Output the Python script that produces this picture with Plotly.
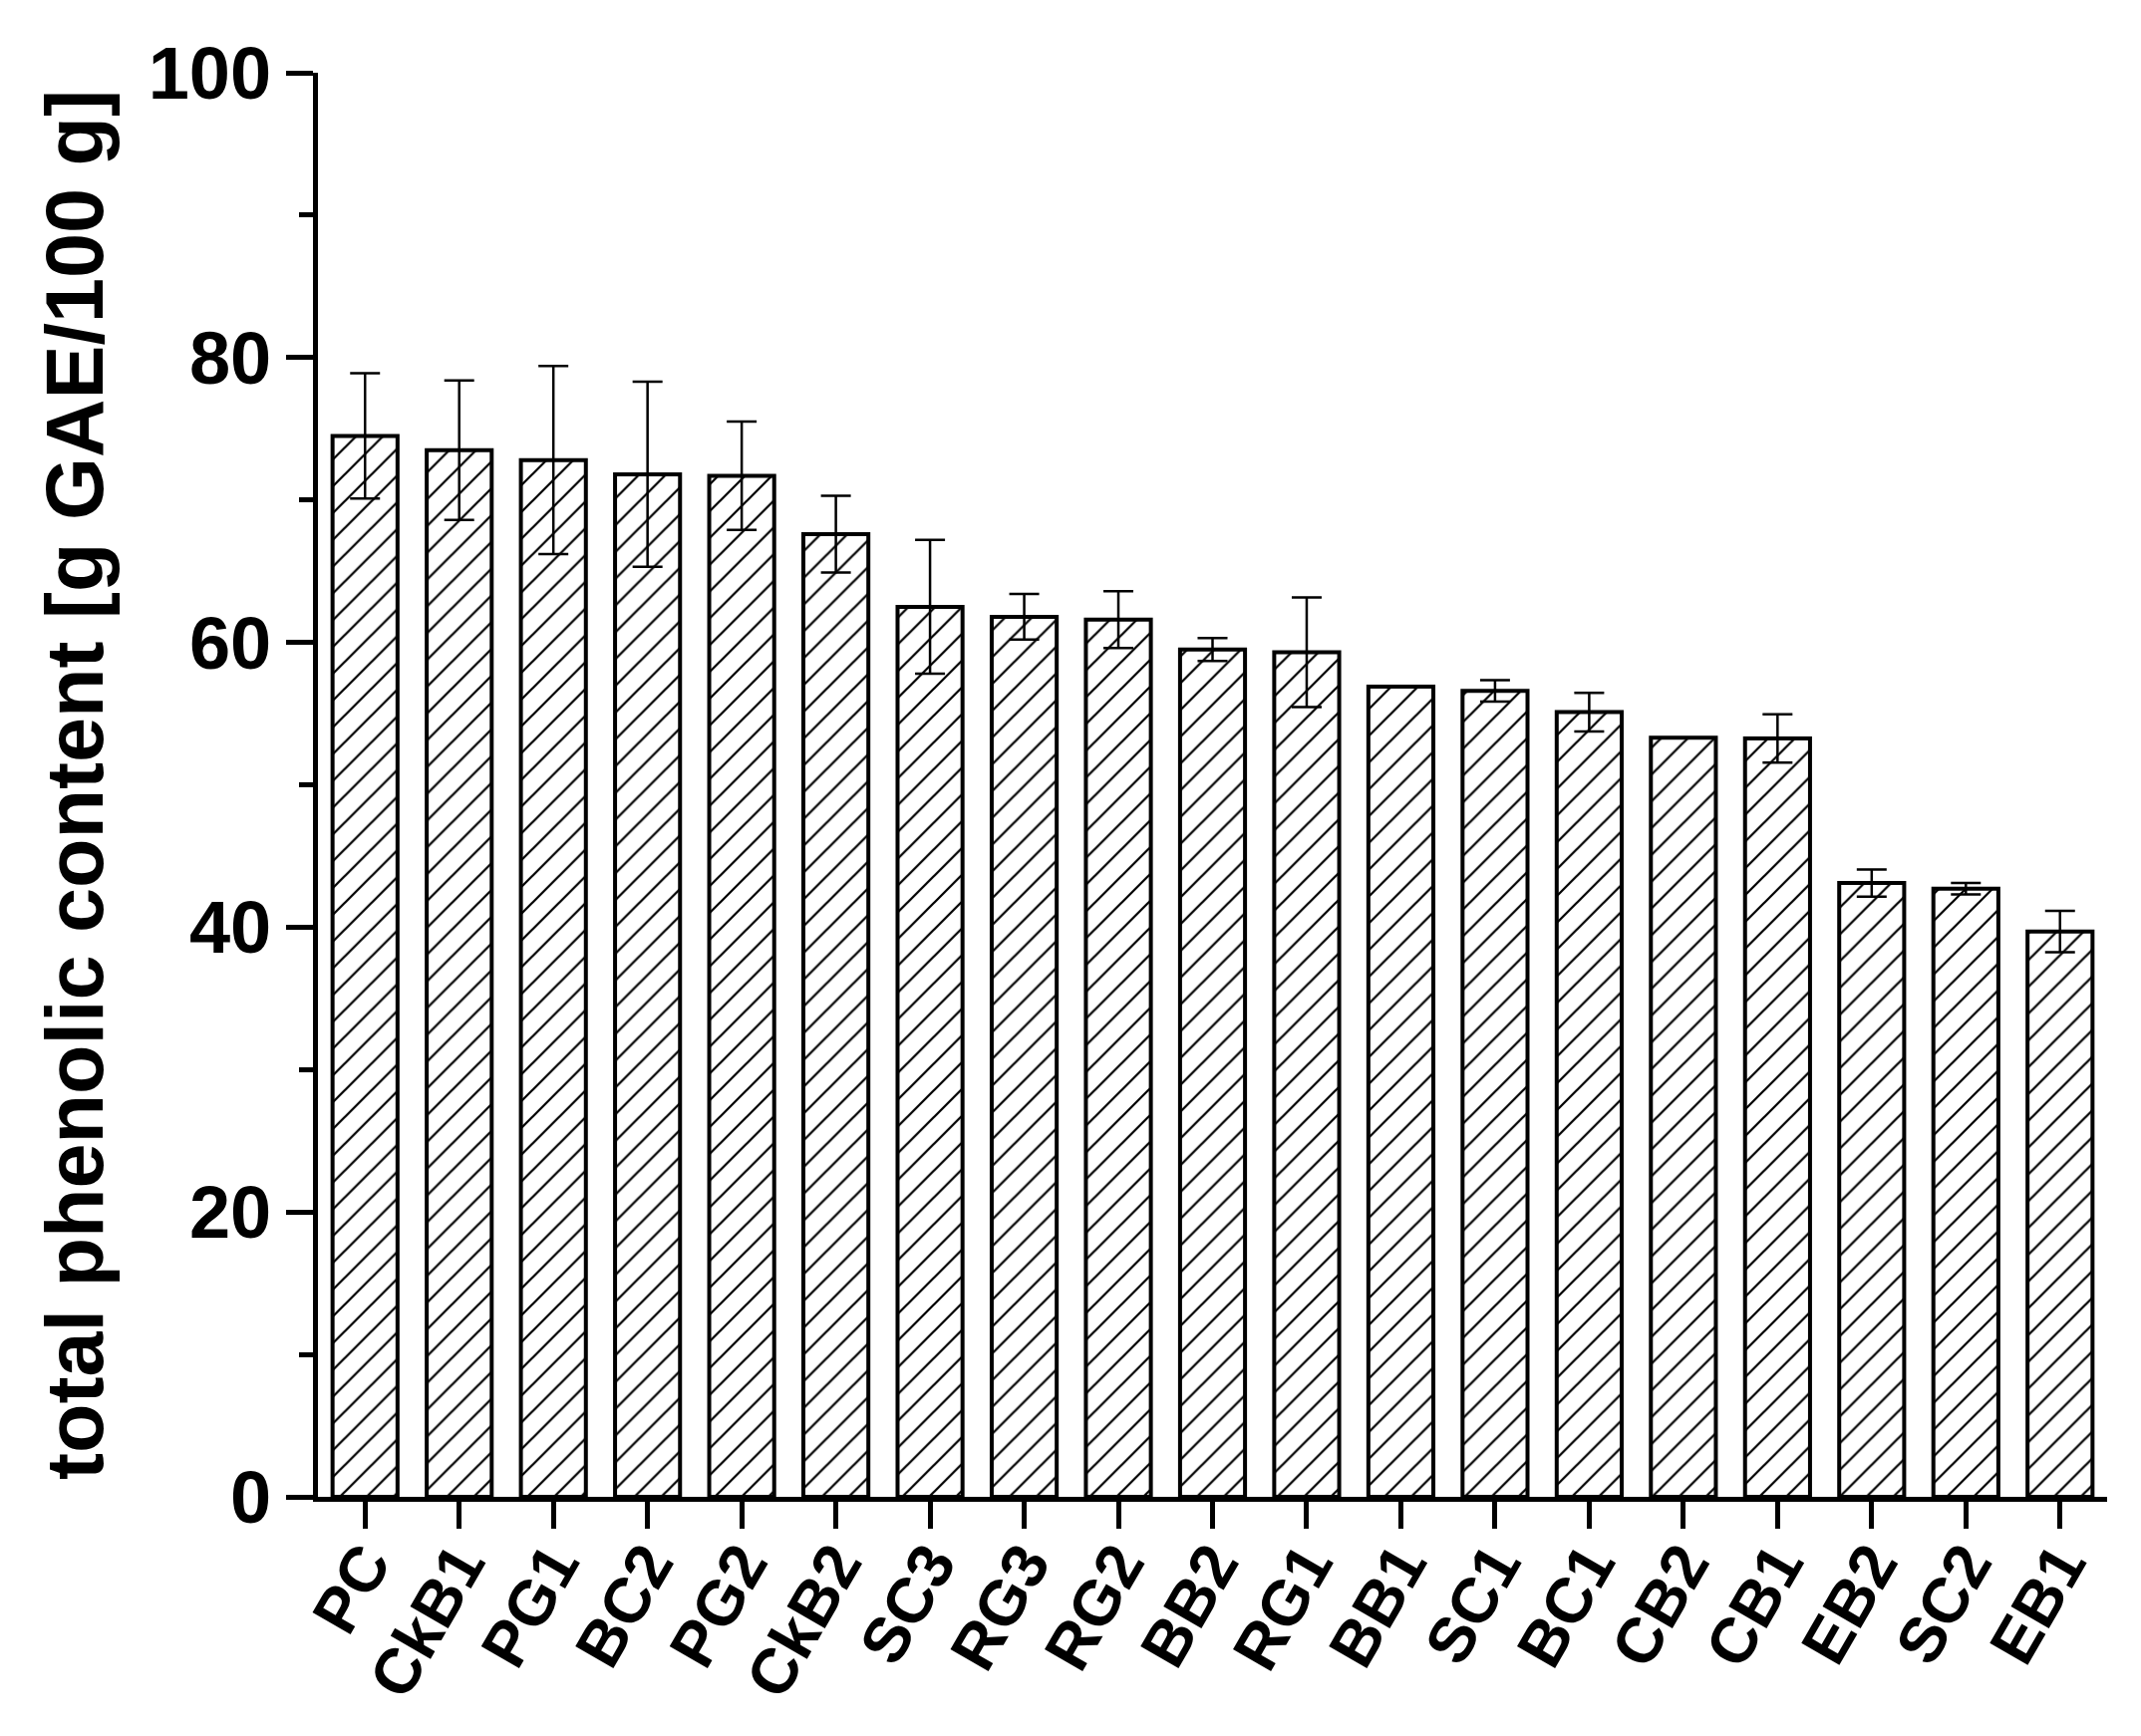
import plotly.graph_objects as go

categories = ["PC", "CkB1", "PG1", "BC2", "PG2", "CkB2", "SC3", "RG3", "RG2", "BB2",
              "RG1", "BB1", "SC1", "BC1", "CB2", "CB1", "EB2", "SC2", "EB1"]
values = [74.5, 73.5, 72.8, 71.8, 71.7, 67.6, 62.5, 61.8, 61.6, 59.5,
          59.3, 56.9, 56.6, 55.1, 53.3, 53.25, 43.1, 42.7, 39.7]
errors = [4.4, 4.9, 6.6, 6.5, 3.8, 2.7, 4.7, 1.6, 2.0, 0.8,
          3.85, 0.0, 0.75, 1.35, 0.0, 1.7, 0.95, 0.4, 1.45]

y_ticks = [0, 20, 40, 60, 80, 100]
y_title = "total phenolic content [g GAE/100 g]"

FONT = "Liberation Sans, Arial, sans-serif"

fig = go.Figure()
fig.add_trace(go.Bar(
    x=categories,
    y=values,
    width=0.69,
    marker=dict(
        color="white",
        line=dict(color="black", width=4),
        pattern=dict(shape="/", fgcolor="black", bgcolor="white",
                     size=19, solidity=0.12, fillmode="replace"),
    ),
    error_y=dict(type="data", array=errors, visible=True,
                 color="black", thickness=2.5, width=15),
))

fig.update_layout(
    width=2132, height=1726,
    paper_bgcolor="white", plot_bgcolor="white",
    margin=dict(l=311, r=26, t=65, b=232, autoexpand=False),
    showlegend=False,
    font=dict(family=FONT, color="black"),
)

fig.update_xaxes(
    range=[-0.5, 18.5],
    showline=True, linecolor="black", linewidth=5,
    ticks="outside", ticklen=27, tickwidth=5, tickcolor="black",
    tickangle=-60,
    ticklabelstandoff=-28,
    tickfont=dict(family=FONT, size=64, weight="bold", color="black"),
    showgrid=False, zeroline=False,
)

fig.update_yaxes(
    range=[0, 100],
    tickvals=y_ticks,
    showline=True, linecolor="black", linewidth=5,
    ticks="outside", ticklen=27, tickwidth=5, tickcolor="black",
    ticklabelstandoff=0,
    minor=dict(dtick=10, ticks="outside", ticklen=14, tickwidth=5, tickcolor="black"),
    tickfont=dict(family=FONT, size=74, weight="bold", color="black"),
    title=dict(text=y_title, font=dict(family=FONT, size=81, weight="bold", color="black"),
               standoff=20),
    showgrid=False, zeroline=False,
)

fig.write_html("out.html")
